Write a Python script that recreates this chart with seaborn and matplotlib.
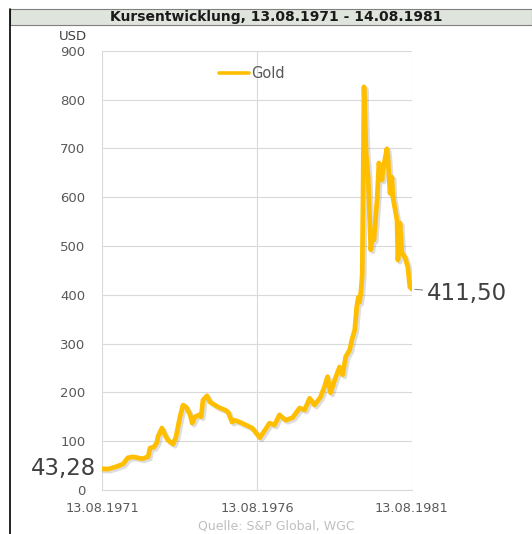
import matplotlib
matplotlib.use("Agg")
import matplotlib.pyplot as plt
import matplotlib.dates as mdates
import matplotlib.patheffects as pe
from matplotlib.patches import Rectangle
from matplotlib.lines import Line2D
import seaborn as sns
import pandas as pd

# ---------------- data ----------------
dates = [
    "1971-08-13", "1971-10-23", "1972-01-15", "1972-04-15", "1972-06-13", "1972-08-13",
    "1972-11-28", "1973-02-06", "1973-03-01", "1973-04-17", "1973-05-22", "1973-06-02",
    "1973-07-19", "1973-08-24", "1973-09-28", "1973-11-27", "1974-01-01", "1974-02-17",
    "1974-03-25", "1974-04-30", "1974-06-17", "1974-07-10", "1974-08-15", "1974-10-01",
    "1974-10-24", "1974-11-15", "1975-01-01", "1975-02-06", "1975-03-01", "1975-05-10",
    "1975-07-31", "1975-09-06", "1975-10-24", "1975-11-27", "1976-02-18", "1976-06-17",
    "1976-09-15", "1977-01-08", "1977-03-07", "1977-05-05", "1977-07-15", "1977-10-05",
    "1977-12-28", "1978-02-25", "1978-04-25", "1978-06-21", "1978-08-30", "1978-10-16",
    "1978-11-22", "1978-12-28", "1979-02-14", "1979-04-13", "1979-05-19", "1979-06-24",
    "1979-08-11", "1979-09-04", "1979-10-09", "1979-11-01", "1979-11-20", "1979-12-05",
    "1979-12-20", "1980-01-05", "1980-01-15", "1980-01-26", "1980-02-20", "1980-03-15",
    "1980-04-15", "1980-05-10", "1980-05-22", "1980-06-28", "1980-07-20", "1980-08-25",
    "1980-09-05", "1980-10-22", "1980-11-03", "1980-11-28", "1980-12-20", "1981-01-01",
    "1981-02-18", "1981-03-01", "1981-03-25", "1981-04-16", "1981-05-22", "1981-06-25",
    "1981-07-20", "1981-08-14",
]
prices = [
    43.28, 43, 47, 53, 66, 68,
    64, 68, 86, 88, 98, 109,
    127, 113, 102, 94, 109, 150,
    174, 170, 154, 137, 150, 154,
    150, 184, 193, 180, 178, 170,
    164, 160, 139, 143, 137, 127,
    107, 137, 133, 154, 143, 148,
    168, 164, 188, 174, 190, 211,
    232, 199, 225, 252, 236, 273,
    287, 307, 328, 375, 395, 385,
    405, 440, 610, 826, 690, 641,
    492, 526, 512, 594, 670, 635,
    656, 699, 682, 608, 641, 600,
    553, 471, 547, 486, 477, 457,
    416, 411.50,
]
series_name = "Gold"
x_ticks = ["1971-08-13", "1976-08-13", "1981-08-13"]
y_ticks = [0, 100, 200, 300, 400, 500, 600, 700, 800, 900]
title = "Kursentwicklung, 13.08.1971 - 14.08.1981"
y_unit = "USD"
source = "Quelle: S&P Global, WGC"

df = pd.DataFrame({"date": pd.to_datetime(dates), "price": prices})

# ---------------- style ----------------
sns.set_style("white")
plt.rcParams["font.family"] = ["DejaVu Sans"]

W, H = 532, 534
fig = plt.figure(figsize=(W / 100, H / 100), dpi=100)
ax = fig.add_axes([102 / W, 1 - 490 / H, 310 / W, (490 - 50.7) / H])

gold = "#FFBF00"
grid_c = "#d9d9d9"
txt_c = "#595959"

sns.lineplot(data=df, x="date", y="price", color=gold, linewidth=3.4,
             label=series_name, ax=ax, zorder=3)
ax.lines[0].set_path_effects([
    pe.SimpleLineShadow(offset=(1.5, -1.5), shadow_color="#666666", alpha=0.22),
    pe.Normal(),
])
ax.lines[0].set_solid_joinstyle("round")

ax.set_ylim(0, 900)
ax.set_yticks(y_ticks)
ax.set_xlim(pd.Timestamp("1971-08-13"), pd.Timestamp("1981-08-14"))
ax.set_xticks(pd.to_datetime(x_ticks))
ax.xaxis.set_major_formatter(mdates.DateFormatter("%d.%m.%Y"))
ax.set_xlabel("")
ax.set_ylabel("")

ax.grid(True, color=grid_c, linewidth=0.8)
ax.set_axisbelow(True)
for s in ["top", "right", "left"]:
    ax.spines[s].set_visible(False)
ax.spines["bottom"].set_color(grid_c)
ax.spines["bottom"].set_linewidth(0.8)

ax.tick_params(axis="y", length=0, pad=12, labelsize=9.5, labelcolor=txt_c)
ax.tick_params(axis="x", length=4, width=0.8, color=grid_c, pad=5,
               labelsize=9.3, labelcolor=txt_c)

ax.text(-15 / 310, (490 - 37) / 439.3, y_unit, transform=ax.transAxes,
        ha="right", va="center", fontsize=9.5, color="#404040")

leg = ax.legend(loc="center", bbox_to_anchor=(0.485, 0.949), frameon=False,
                fontsize=10.5, handlelength=2.0, handletextpad=0.2,
                labelcolor=txt_c)
for ln in leg.get_lines():
    ln.set_path_effects([])
    ln.set_linewidth(2.6)

fmt = lambda v: f"{v:.2f}".replace(".", ",")
ax.annotate(fmt(prices[0]), xy=(df["date"].iloc[0], prices[0]),
            xytext=(-4, 0), textcoords="offset points", ha="right", va="center",
            fontsize=16.5, color="#404040")
ax.annotate(fmt(prices[-1]), xy=(df["date"].iloc[-1], prices[-1]),
            xytext=(11, -3), textcoords="offset points", ha="left", va="center",
            fontsize=16.5, color="#404040", annotation_clip=False,
            arrowprops=dict(arrowstyle="-", color="#8c8c8c", lw=0.8,
                            shrinkA=1, shrinkB=2))

# title bar and frame
fig.patches.append(Rectangle((10 / W, 1 - 25 / H), 522 / W, 16 / H,
                             transform=fig.transFigure, facecolor="#dfe5dc",
                             edgecolor="#7f7f7f", linewidth=0.8, zorder=0))
fig.text(276 / W, 1 - 17 / H, title, ha="center", va="center",
         fontsize=10, fontweight="bold", color="#1a1a1a")
fig.lines.append(Line2D([10 / W, 10 / W], [0, 1 - 9 / H], transform=fig.transFigure,
                        color="#000000", linewidth=1.2))

fig.text(276 / W, 1.5 / H, source, ha="center", va="bottom",
         fontsize=9, color="#bfbfbf")

fig.savefig("out.png", dpi=100)
